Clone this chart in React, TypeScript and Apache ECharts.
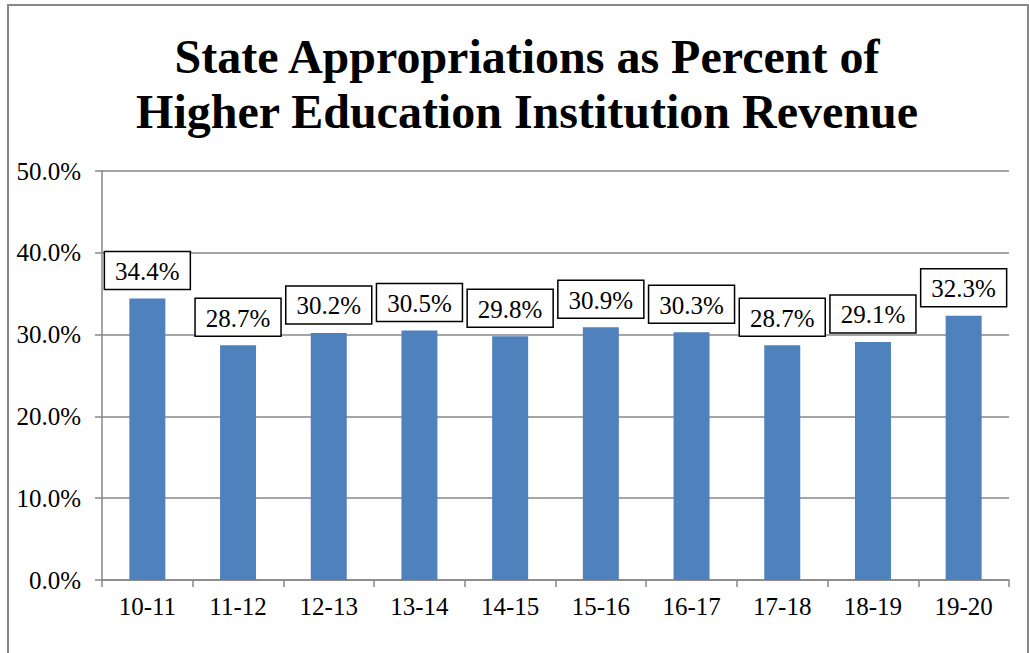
import React, { useEffect, useRef } from "react";
import * as echarts from "echarts";

const categories = ["10-11", "11-12", "12-13", "13-14", "14-15", "15-16", "16-17", "17-18", "18-19", "19-20"];
const values = [34.4, 28.7, 30.2, 30.5, 29.8, 30.9, 30.3, 28.7, 29.1, 32.3];
const titleText = "State Appropriations as Percent of\nHigher Education Institution Revenue";

const SERIF = "Liberation Serif";
const GRAY = "#878787";
const BOX_W = 86;
const BOX_H = 38;
const GAP = 9;

export default function App() {
  const ref = useRef<HTMLDivElement>(null);
  useEffect(() => {
    const chart = echarts.init(ref.current!, undefined, { renderer: "svg" });
    chart.setOption({
      animation: false,
      backgroundColor: "#ffffff",
      textStyle: { fontFamily: SERIF },
      graphic: [
        {
          type: "rect",
          shape: { x: 8, y: 5, width: 1020, height: 700 },
          style: { fill: "none", stroke: GRAY, lineWidth: 2 },
          silent: true,
        },
      ],
      title: {
        text: titleText,
        left: 522,
        top: 24,
        textAlign: "center",
        textStyle: {
          fontFamily: SERIF,
          fontSize: 48,
          fontWeight: "bold",
          lineHeight: 55,
          color: "#000",
        },
      },
      grid: { left: 102, right: 20, top: 171, bottom: 73, containLabel: false },
      xAxis: {
        type: "category",
        data: categories,
        axisLine: { lineStyle: { color: GRAY, width: 1.5 } },
        axisTick: { show: true, length: 7, lineStyle: { color: GRAY, width: 1.5 } },
        axisLabel: { color: "#000", fontFamily: SERIF, fontSize: 25, margin: 14 },
        splitLine: { show: false },
      },
      yAxis: {
        type: "value",
        min: 0,
        max: 50,
        interval: 10,
        axisLine: { show: true, lineStyle: { color: GRAY, width: 1.5 } },
        axisTick: { show: true, length: 7, lineStyle: { color: GRAY, width: 1.5 } },
        axisLabel: {
          color: "#000",
          fontFamily: SERIF,
          fontSize: 25,
          margin: 21,
          formatter: (v: number) => v.toFixed(1) + "%",
        },
        splitLine: { show: true, lineStyle: { color: GRAY, width: 1.5 } },
      },
      series: [
        {
          type: "bar",
          data: values,
          barWidth: 36,
          itemStyle: { color: "#4F81BD" },
        },
        {
          type: "custom",
          data: values.map((v, i) => [i, v]),
          z: 10,
          renderItem: (_params: any, api: any) => {
            const idx = api.value(0);
            const v = api.value(1);
            const pt = api.coord([idx, v]);
            const bottom = pt[1] - GAP;
            return {
              type: "group",
              children: [
                {
                  type: "rect",
                  shape: { x: pt[0] - BOX_W / 2, y: bottom - BOX_H, width: BOX_W, height: BOX_H },
                  style: { fill: "#fff", stroke: "#000", lineWidth: 1.5 },
                },
                {
                  type: "text",
                  x: pt[0],
                  y: bottom - BOX_H / 2 + 1,
                  style: {
                    text: Number(v).toFixed(1) + "%",
                    font: "25px 'Liberation Serif', serif",
                    fill: "#000",
                    align: "center",
                    verticalAlign: "middle",
                  },
                },
              ],
            };
          },
        },
      ],
    });
    return () => chart.dispose();
  }, []);
  return (
    <div
      ref={ref}
      style={{ position: "fixed", left: 0, top: 0, width: 1029, height: 653 }}
    />
  );
}
